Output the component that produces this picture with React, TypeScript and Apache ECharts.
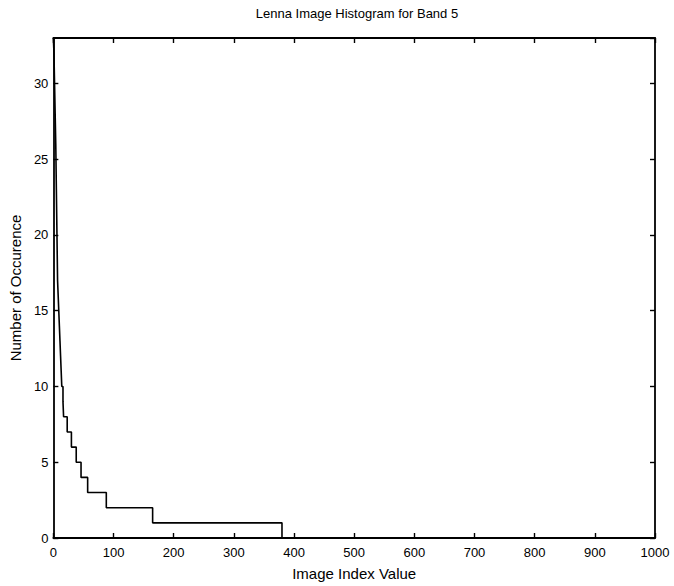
import React, { useEffect, useRef } from "react";
import * as echarts from "echarts";

// Sorted histogram drawn as stairs: value held from stepStart[i] to stepStart[i+1]
const stepStart = [0, 1, 2, 3, 4, 5, 6, 7, 8, 9, 10, 11, 12, 13, 14, 16, 17, 23, 30, 38, 46, 57, 88, 165, 380];
const stepValue = [33, 32, 30, 28, 26, 23, 20, 17, 16, 15, 14, 13, 12, 11, 10, 9, 8, 7, 6, 5, 4, 3, 2, 1, 0];

const xTickValues = [0, 100, 200, 300, 400, 500, 600, 700, 800, 900, 1000];
const yTickValues = [0, 5, 10, 15, 20, 25, 30];

const titleText = "Lenna Image Histogram for Band 5";
const xName = "Image Index Value";
const yName = "Number of Occurence";

const FONT = "'Liberation Sans', Arial, Helvetica, sans-serif";

export default function App() {
  const ref = useRef<HTMLDivElement>(null);

  useEffect(() => {
    if (!ref.current) return;
    const chart = echarts.init(ref.current, undefined, { renderer: "svg" });
    const data = stepStart.map((x, i) => [x, stepValue[i]]);
    const lineColor = "#000";
    const axisLine = { show: true, onZero: false, lineStyle: { color: lineColor, width: 1.8 } };
    const axisTick = { show: true, inside: true, length: 5, lineStyle: { color: lineColor, width: 1.4 } };
    const xMin = xTickValues[0];
    const xMax = xTickValues[xTickValues.length - 1];
    const xInt = xTickValues[1] - xTickValues[0];
    const yMin = yTickValues[0];
    const yInt = yTickValues[1] - yTickValues[0];
    const yMax = stepValue[0];

    chart.setOption({
      animation: false,
      backgroundColor: "#fff",
      title: {
        text: titleText,
        left: 352,
        textAlign: "center",
        top: 2,
        textStyle: { fontFamily: FONT, fontSize: 13, fontWeight: "normal", color: "#000" },
      },
      grid: { left: 51, right: 19, top: 38, bottom: 48, containLabel: false },
      xAxis: [
        {
          type: "value",
          min: xMin,
          max: xMax,
          interval: xInt,
          axisLine,
          axisTick,
          splitLine: { show: false },
          axisLabel: {
            color: "#000",
            fontFamily: FONT,
            fontSize: 13,
            margin: 8,
            formatter: (v: number) => String(v),
          },
          name: xName,
          nameLocation: "middle",
          nameGap: 28,
          nameTextStyle: { color: "#000", fontFamily: FONT, fontSize: 15 },
        },
        {
          type: "value",
          position: "top",
          min: xMin,
          max: xMax,
          interval: xInt,
          axisLine,
          axisTick,
          splitLine: { show: false },
          axisLabel: { show: false },
        },
      ],
      yAxis: [
        {
          type: "value",
          min: yMin,
          max: yMax,
          interval: yInt,
          axisLine,
          axisTick,
          splitLine: { show: false },
          axisLabel: {
            color: "#000",
            fontFamily: FONT,
            fontSize: 13,
            margin: 5,
            showMaxLabel: false,
            formatter: (v: number) => String(v),
          },
          name: yName,
          nameLocation: "middle",
          nameGap: 29,
          nameTextStyle: { color: "#000", fontFamily: FONT, fontSize: 15 },
        },
        {
          type: "value",
          position: "right",
          min: yMin,
          max: yMax,
          interval: yInt,
          axisLine,
          axisTick,
          splitLine: { show: false },
          axisLabel: { show: false },
        },
      ],
      series: [
        {
          type: "line",
          step: "end",
          data,
          symbol: "none",
          lineStyle: { color: "#000", width: 1.6 },
          xAxisIndex: 0,
          yAxisIndex: 0,
          z: 3,
        },
      ],
    });
    return () => chart.dispose();
  }, []);

  return (
    <div
      ref={ref}
      style={{ position: "fixed", left: 0, top: 0, width: 674, height: 586, background: "#fff" }}
    />
  );
}
